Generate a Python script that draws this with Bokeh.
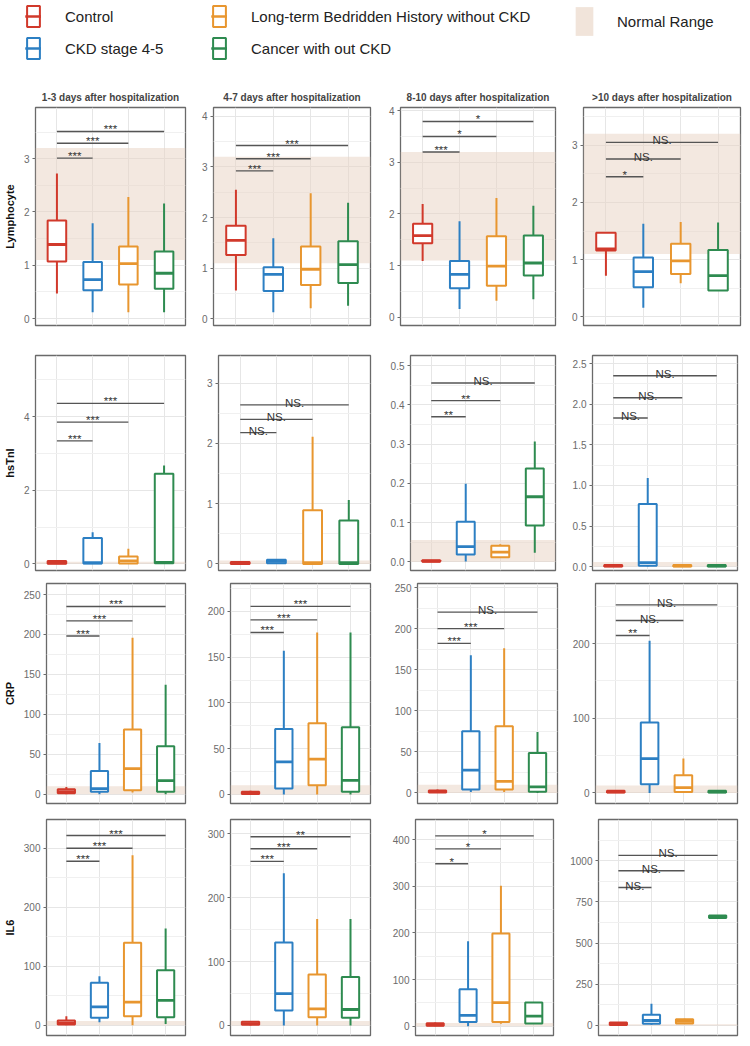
from bokeh.plotting import figure
from bokeh.models import ColumnDataSource, Range1d, FixedTicker, BoxAnnotation, Legend, LegendItem
from bokeh.transform import dodge
from bokeh.layouts import column, row
from bokeh.embed import file_html
from bokeh.resources import INLINE
from bokeh.core.properties import value

# ---------------- data ----------------
groups = ["Control", "CKD stage 4-5", "Long-term Bedridden History without CKD", "Cancer with out CKD"]
colors = ["#D1392B", "#2C7FC3", "#E8962F", "#2E8B50"]
periods = ["1-3 days after hospitalization", "4-7 days after hospitalization",
           "8-10 days after hospitalization", ">10 days after hospitalization"]
markers = ["Lymphocyte", "hsTnI", "CRP", "IL6"]
normal_label = "Normal Range"
compared_with = [2, 3, 4]          # each bracket: Control (1) vs group k

# Lymphocyte
lym_low = [[0.47, 0.12, 0.12, 0.12], [0.56, 0.13, 0.21, 0.26], [1.09, 0.16, 0.32, 0.35], [0.72, 0.16, 0.59, 0.46]]
lym_q1 = [[1.07, 0.53, 0.64, 0.56], [1.26, 0.55, 0.67, 0.71], [1.43, 0.56, 0.61, 0.81], [1.16, 0.52, 0.75, 0.46]]
lym_med = [[1.39, 0.73, 1.03, 0.85], [1.55, 0.88, 0.98, 1.07], [1.58, 0.83, 0.99, 1.05], [1.19, 0.79, 0.98, 0.72]]
lym_q3 = [[1.84, 1.06, 1.35, 1.26], [1.84, 1.02, 1.43, 1.53], [1.81, 1.09, 1.57, 1.58], [1.47, 1.04, 1.28, 1.17]]
lym_high = [[2.72, 1.79, 2.28, 2.16], [2.55, 1.59, 2.48, 2.29], [2.19, 1.86, 2.31, 2.16], [1.47, 1.63, 1.66, 1.65]]
lym_ylim = [(-0.13, 3.96), (-0.13, 4.17), (-0.16, 4.06), (-0.15, 3.66)]
lym_ticks = [[0, 1, 2, 3], [0, 1, 2, 3, 4], [0, 1, 2, 3, 4], [0, 1, 2, 3]]
lym_tick_labels = [["0", "1", "2", "3"], ["0", "1", "2", "3", "4"], ["0", "1", "2", "3", "4"], ["0", "1", "2", "3"]]
lym_sig_y = [[3.01, 3.29, 3.51], [2.92, 3.16, 3.42], [3.2, 3.5, 3.79], [2.45, 2.76, 3.05]]
lym_sig = [["***", "***", "***"], ["***", "***", "***"], ["***", "*", "*"], ["*", "NS.", "NS."]]
lym_normal = (1.1, 3.2)

# hsTnI
tni_low = [[0, 0, 0, 0], [0, 0, 0, 0], [0, 0.001, 0.012, 0.023], [0, 0, 0, 0]]
tni_q1 = [[0, 0.01, 0.01, 0.02], [0, 0.01, 0, 0], [0, 0.019, 0.012, 0.093], [0, 0.01, 0, 0]]
tni_med = [[0.03, 0.03, 0.08, 0.04], [0.01, 0.04, 0.02, 0.02], [0.002, 0.039, 0.025, 0.166], [0.01, 0.05, 0.01, 0.01]]
tni_q3 = [[0.08, 0.70, 0.20, 2.45], [0.03, 0.07, 0.89, 0.72], [0.004, 0.102, 0.041, 0.238], [0.02, 0.77, 0.02, 0.02]]
tni_high = [[0.1, 0.86, 0.41, 2.67], [0.04, 0.08, 2.11, 1.06], [0.005, 0.199, 0.045, 0.307], [0.02, 1.09, 0.02, 0.02]]
tni_ylim = [(-0.18, 5.66), (-0.11, 3.46), (-0.022, 0.526), (-0.048, 2.6)]
tni_ticks = [[0, 2, 4], [0, 1, 2, 3], [0, 0.1, 0.2, 0.3, 0.4, 0.5], [0, 0.5, 1.0, 1.5, 2.0, 2.5]]
tni_tick_labels = [["0", "2", "4"], ["0", "1", "2", "3"], ["0.0", "0.1", "0.2", "0.3", "0.4", "0.5"],
                   ["0.0", "0.5", "1.0", "1.5", "2.0", "2.5"]]
tni_sig_y = [[3.34, 3.85, 4.36], [2.18, 2.4, 2.64], [0.37, 0.411, 0.456], [1.83, 2.08, 2.35]]
tni_sig = [["***", "***", "***"], ["NS.", "NS.", "NS."], ["**", "**", "NS."], ["NS.", "NS.", "NS."]]
tni_normal = (0, 0.056)

# CRP
crp_low = [[0, 0, 2, 0], [0, 0, 0, 0], [0, 1, 1, 0], [0, 0, 0, 0]]
crp_q1 = [[1, 3, 5, 3], [0.5, 6.6, 10, 3], [0.5, 4, 4, 1.5], [0.5, 11.7, 1.3, 0.5]]
crp_med = [[3, 7, 32, 17], [1.5, 35.6, 38.5, 15.4], [1.5, 27.7, 14, 7.3], [1.5, 46, 7.2, 1.5]]
crp_q3 = [[6, 29, 81, 60], [3, 71.6, 77.8, 73.3], [3, 75, 81, 48.7], [3, 94.4, 23.8, 3]]
crp_high = [[9, 64, 196, 137], [4, 157, 177, 177], [4, 167.5, 176, 74], [4, 204, 46, 4]]
crp_ylim = [(-11.7, 263.8), (-9.9, 230.5), (-12.9, 254.9), (-14.2, 280.6)]
crp_ticks = [[0, 50, 100, 150, 200, 250], [0, 50, 100, 150, 200], [0, 50, 100, 150, 200, 250], [0, 100, 200]]
crp_tick_labels = [["0", "50", "100", "150", "200", "250"], ["0", "50", "100", "150", "200"],
                   ["0", "50", "100", "150", "200", "250"], ["0", "100", "200"]]
crp_sig_y = [[198, 217, 235], [177, 190.8, 205.5], [182, 200, 220], [211, 231, 252]]
crp_sig = [["***", "***", "***"], ["***", "***", "***"], ["***", "***", "NS."], ["**", "NS.", "NS."]]
crp_normal = (0, 10)

# IL6
il6_low = [[0, 5, 0, 2], [0, 0, 0, 0], [0, 0, 5, 5.8], [0, 5, 10, 652]]
il6_q1 = [[1, 12.5, 15, 13.6], [1, 23.6, 13, 12], [1, 8.7, 8.7, 5.8], [3, 10, 12, 652]]
il6_med = [[4, 31, 39, 42], [3, 50, 26, 25], [3, 23, 50.5, 21.6], [8, 30, 25, 660]]
il6_q3 = [[8, 72, 140, 93], [6, 130, 79.7, 76], [6, 79, 198.5, 50.5], [18, 65, 38, 668]]
il6_high = [[15, 83, 288, 164], [7, 238.5, 166.7, 166.7], [8, 182, 301, 50.5], [20, 132, 40, 668]]
il6_ylim = [(-17.5, 348.8), (-15.7, 322.5), (-20, 443), (-61, 1250)]
il6_ticks = [[0, 100, 200, 300], [0, 100, 200, 300], [0, 100, 200, 300, 400], [0, 250, 500, 750, 1000]]
il6_tick_labels = [["0", "100", "200", "300"], ["0", "100", "200", "300"], ["0", "100", "200", "300", "400"],
                   ["0", "250", "500", "750", "1000"]]
il6_sig_y = [[278, 300, 321.6], [257, 276.6, 295.6], [348, 380, 408], [837, 939, 1032]]
il6_sig = [["***", "***", "***"], ["***", "***", "**"], ["*", "*", "*"], ["NS.", "NS.", "NS."]]
il6_normal = (0, 7)

# table built from the named lists
panels = {
    "Lymphocyte": (lym_low, lym_q1, lym_med, lym_q3, lym_high, lym_ylim, lym_ticks, lym_tick_labels, lym_sig_y, lym_sig, lym_normal),
    "hsTnI": (tni_low, tni_q1, tni_med, tni_q3, tni_high, tni_ylim, tni_ticks, tni_tick_labels, tni_sig_y, tni_sig, tni_normal),
    "CRP": (crp_low, crp_q1, crp_med, crp_q3, crp_high, crp_ylim, crp_ticks, crp_tick_labels, crp_sig_y, crp_sig, crp_normal),
    "IL6": (il6_low, il6_q1, il6_med, il6_q3, il6_high, il6_ylim, il6_ticks, il6_tick_labels, il6_sig_y, il6_sig, il6_normal),
}

# ---------------- layout / style ----------------
FONT = "Liberation Sans"
NORMAL_FILL = "#E8D2C2"
cell_w = [190, 185, 185, 182]
row_h = [260, 237, 233, 228]
border_left = [[33, 23, 25, 23], [33, 28, 35, 32], [42, 40, 42, 35], [43, 40, 40, 38]]
border_right = [[5, 5, 5, 2], [5, 5, 5, 5], [5, 5, 3, 5], [5, 5, 7, 5]]
border_top = [27, 15, 6, 9]
border_bottom = [15, 7, 7, 3]
BOX_W = 0.52


def make_panel(r, c):
    m = markers[r]
    low, q1, med, q3, high, ylim, ticks, tlabels, sig_y, sig, normal = panels[m]
    xs = [i + 1 for i in range(len(groups))]
    p = figure(width=cell_w[c], height=row_h[r], x_range=Range1d(0.4, 4.6),
               y_range=Range1d(*ylim[c]), output_backend="svg", toolbar_location=None,
               x_axis_location=None, min_border_left=border_left[r][c],
               min_border_right=border_right[r][c], min_border_top=border_top[r],
               min_border_bottom=border_bottom[r])
    if r == 0:
        p.title.text = periods[c]
        p.title.align = "center"
        p.title.text_font = FONT
        p.title.text_font_size = "10px"
        p.title.text_font_style = "bold"
        p.title.standoff = 10
    p.background_fill_color = "white"
    p.outline_line_color = "#6a6a6a"
    p.outline_line_width = 1.3

    # axes / grid
    t = ticks[c]
    step = t[1] - t[0]
    lo, hi = ylim[c]
    minor = [t[0] - step / 2] + [v + step / 2 for v in t]
    minor = [v for v in minor if lo <= v <= hi]
    ticker = FixedTicker(ticks=t, minor_ticks=minor)
    ax = p.yaxis[0]
    ax.ticker = ticker
    ax.major_label_overrides = {tv: lab for tv, lab in zip(t, tlabels[c])}
    ax.major_label_text_font = FONT
    ax.major_label_text_font_size = "10px"
    ax.major_label_text_color = "#6b6b6b"
    ax.major_label_standoff = 2
    ax.major_tick_out = 3
    ax.major_tick_in = 0
    ax.major_tick_line_color = "#6b6b6b"
    ax.minor_tick_line_color = None
    ax.axis_line_color = None
    if c == 0:
        ax.axis_label = m
        ax.axis_label_text_font = FONT
        ax.axis_label_text_font_size = "11px"
        ax.axis_label_text_font_style = "bold"
        ax.axis_label_text_color = "#111111"
        ax.axis_label_standoff = 5
    p.ygrid.ticker = ticker
    p.ygrid.grid_line_color = "#E6E6E6"
    p.ygrid.minor_grid_line_color = "#F0F0F0"
    p.xgrid.ticker = FixedTicker(ticks=xs)
    p.xgrid.grid_line_color = "#E6E6E6"

    # normal range band
    p.add_layout(BoxAnnotation(bottom=normal[0], top=normal[1], fill_color=NORMAL_FILL,
                               fill_alpha=0.5, line_color=None, level="underlay"))

    src = ColumnDataSource(dict(x=xs, low=low[c], q1=q1[c], med=med[c], q3=q3[c],
                                high=high[c], color=colors))
    p.segment(x0="x", y0="q3", x1="x", y1="high", line_color="color", line_width=2, source=src)
    p.segment(x0="x", y0="low", x1="x", y1="q1", line_color="color", line_width=2, source=src)
    p.vbar(x="x", width=BOX_W, bottom="q1", top="q3", fill_color="white",
           line_color="color", line_width=2, source=src)
    p.segment(x0=dodge("x", -BOX_W / 2, range=p.x_range), y0="med",
              x1=dodge("x", BOX_W / 2, range=p.x_range), y1="med",
              line_color="color", line_width=2.8, source=src)

    # significance brackets
    x1s = compared_with
    bsrc = ColumnDataSource(dict(x0=[1] * len(x1s), x1=x1s, y=sig_y[c], label=sig[c],
                                 xm=[(1 + k) / 2 for k in x1s]))
    p.segment(x0="x0", y0="y", x1="x1", y1="y", line_color="#555555", line_width=1.4, source=bsrc)
    p.text(x="xm", y="y", text="label", text_align="center", text_baseline="alphabetic",
           y_offset=-2, text_font=value(FONT), text_font_size="11.5px", text_color="#333333",
           source=bsrc)
    return p


# ---------------- legends ----------------
NAN = float("nan")


def legend_fig(width, left):
    f = figure(width=width, height=80, output_backend="svg", toolbar_location=None,
               x_range=Range1d(0, 1), y_range=Range1d(0, 1),
               x_axis_location=None, y_axis_location=None, min_border_left=left,
               min_border_top=3, min_border_right=0, min_border_bottom=0)
    f.outline_line_color = None
    f.grid.visible = False
    return f


lf = legend_fig(573, 25)
items = []
for g, col in zip(groups, colors):
    rw = lf.vspan(x=[NAN], line_color=col, line_width=2)
    rb = lf.vbar(x=[NAN], top=[NAN], width=1, fill_color="white", line_color=col, line_width=2)
    rm = lf.line(x=[NAN], y=[NAN], line_color=col, line_width=2.5)
    items.append(LegendItem(label=g, renderers=[rw, rb, rm]))
leg = Legend(items=items, nrows=2, location="top_left", margin=0, padding=0,
             glyph_width=16, glyph_height=26, label_standoff=24, spacing=6, label_width=140,
             label_text_font=FONT, label_text_font_size="15px", label_text_color="#222222",
             border_line_color=None, background_fill_alpha=0)
lf.add_layout(leg)

nf = legend_fig(169, 0)
rn = nf.vbar(x=[NAN], top=[NAN], width=1, fill_color=NORMAL_FILL, fill_alpha=0.6, line_color=None)
leg2 = Legend(items=[LegendItem(label=normal_label, renderers=[rn])], location="top_left",
              margin=0, padding=0, glyph_width=22, glyph_height=36, label_standoff=22,
              label_text_font=FONT, label_text_font_size="15px", label_text_color="#222222",
              border_line_color=None, background_fill_alpha=0)
nf.add_layout(leg2)

rows = [row(*[make_panel(r, c) for c in range(4)]) for r in range(4)]
layout = column(row(lf, nf), *rows)

open("out.html", "w").write(file_html(layout, INLINE))
